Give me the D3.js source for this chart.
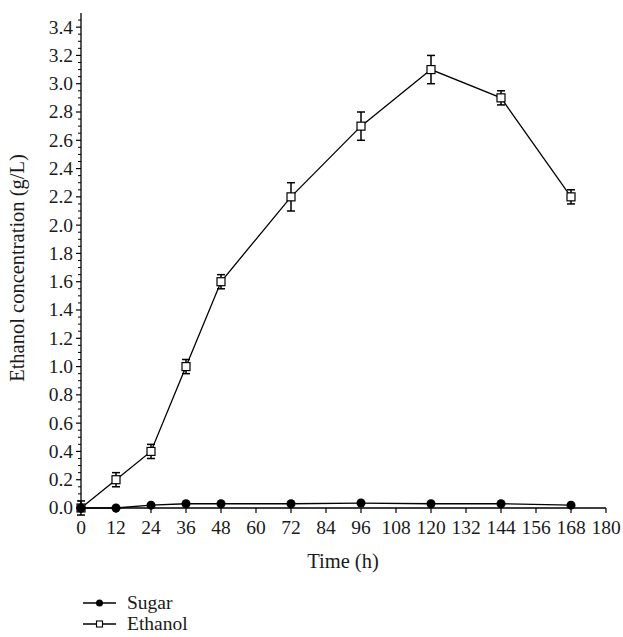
<!DOCTYPE html>
<html><head><meta charset="utf-8">
<script src="https://cdn.jsdelivr.net/npm/d3@7"></script>
<style>body{margin:0;background:#fff}svg{display:block}svg text{font-family:"Liberation Serif","DejaVu Serif",serif;fill:#1a1a1a}</style>
</head><body>
<svg id="c" width="623" height="637"></svg>
<script>
const times = [0, 12, 24, 36, 48, 72, 96, 120, 144, 168];
const sugar = [0, 0, 0.02, 0.03, 0.03, 0.03, 0.035, 0.03, 0.03, 0.02];
const ethanol = [0, 0.2, 0.4, 1.0, 1.6, 2.2, 2.7, 3.1, 2.9, 2.2];
const ethanolErr = [0.05, 0.05, 0.05, 0.05, 0.05, 0.1, 0.1, 0.1, 0.05, 0.05];
const xTicks = d3.range(0, 181, 12);
const yTicks = d3.range(0, 3.41, 0.2);
const seriesNames = ["Sugar", "Ethanol"];

const svg = d3.select("#c");
const fs = 19.5;
const x = d3.scaleLinear().domain([0, 180]).range([81, 606]);
const y = d3.scaleLinear().domain([0, 3.5]).range([508, 13]);

// y axis
const gy = svg.append("g").attr("transform", "translate(81,0)");
gy.append("line").attr("x1",0).attr("x2",0).attr("y1",y(3.5)).attr("y2",y(0)).attr("stroke","#000").attr("stroke-width",1.3);
const minor = d3.range(0, 3.46, 0.05).filter(v => Math.abs(Math.round(v*5) - v*5) > 1e-6);
gy.selectAll(".mn").data(minor).join("line").attr("x1",-3).attr("x2",0).attr("y1",d=>y(d)).attr("y2",d=>y(d)).attr("stroke","#000").attr("stroke-width",1);
gy.selectAll(".mj").data(yTicks).join("line").attr("x1",-5).attr("x2",0).attr("y1",d=>y(d)).attr("y2",d=>y(d)).attr("stroke","#000").attr("stroke-width",1.2);
gy.selectAll(".tl").data(yTicks).join("text").attr("x",-8).attr("y",d=>y(d)).attr("dy","0.33em")
  .attr("text-anchor","end").attr("font-size",fs).text(d=>d.toFixed(1));

// x axis
const gx = svg.append("g").attr("transform", "translate(0,508)");
gx.append("line").attr("x1",x(0)).attr("x2",x(180)).attr("y1",0).attr("y2",0).attr("stroke","#000").attr("stroke-width",1.3);
gx.selectAll(".mj").data(xTicks).join("line").attr("x1",d=>x(d)).attr("x2",d=>x(d)).attr("y1",0).attr("y2",5).attr("stroke","#000").attr("stroke-width",1.2);
gx.selectAll(".tl").data(xTicks).join("text").attr("x",d=>x(d)).attr("y",26)
  .attr("text-anchor","middle").attr("font-size",fs).text(d=>d);

// axis titles
svg.append("text").attr("transform","translate(24,268) rotate(-90)").attr("text-anchor","middle")
  .attr("font-size",20.5).text("Ethanol concentration (g/L)");
svg.append("text").attr("x",343).attr("y",568).attr("text-anchor","middle")
  .attr("font-size",20.5).text("Time (h)");

const line = d3.line().x(d=>x(d[0])).y(d=>y(d[1]));
const sData = times.map((t,i)=>[t, sugar[i]]);
const eData = times.map((t,i)=>[t, ethanol[i], ethanolErr[i]]);

svg.append("path").attr("d", line(eData)).attr("fill","none").attr("stroke","#000").attr("stroke-width",1.3);
svg.append("path").attr("d", line(sData)).attr("fill","none").attr("stroke","#000").attr("stroke-width",1.3);

// error bars
const eb = svg.append("g").attr("stroke","#000").attr("stroke-width",1.5);
eData.forEach(d => {
  const cx = x(d[0]), y1 = y(d[1]+d[2]), y2 = y(d[1]-d[2]);
  eb.append("line").attr("x1",cx).attr("x2",cx).attr("y1",y1).attr("y2",y2);
  eb.append("line").attr("x1",cx-4).attr("x2",cx+4).attr("y1",y1).attr("y2",y1);
  eb.append("line").attr("x1",cx-4).attr("x2",cx+4).attr("y1",y2).attr("y2",y2);
});

svg.selectAll(".sq").data(eData).join("rect").attr("x",d=>x(d[0])-4).attr("y",d=>y(d[1])-4)
  .attr("width",8).attr("height",8).attr("fill","#fff").attr("stroke","#000").attr("stroke-width",1.2);
svg.selectAll(".ci").data(sData).join("circle").attr("cx",d=>x(d[0])).attr("cy",d=>y(d[1])).attr("r",4.5).attr("fill","#000");

// legend
const lg = svg.append("g");
[603, 624].forEach((ly, i) => {
  lg.append("line").attr("x1",83).attr("x2",116).attr("y1",ly).attr("y2",ly).attr("stroke","#000").attr("stroke-width",1.3);
  if (i === 0) lg.append("circle").attr("cx",99.5).attr("cy",ly).attr("r",3.5).attr("fill","#000");
  else lg.append("rect").attr("x",96.5).attr("y",ly-3).attr("width",6).attr("height",6).attr("fill","#fff").attr("stroke","#000").attr("stroke-width",1.1);
  lg.append("text").attr("x",127).attr("y",ly).attr("dy","0.33em").attr("font-size",fs).text(seriesNames[i]);
});
</script>
</body></html>
